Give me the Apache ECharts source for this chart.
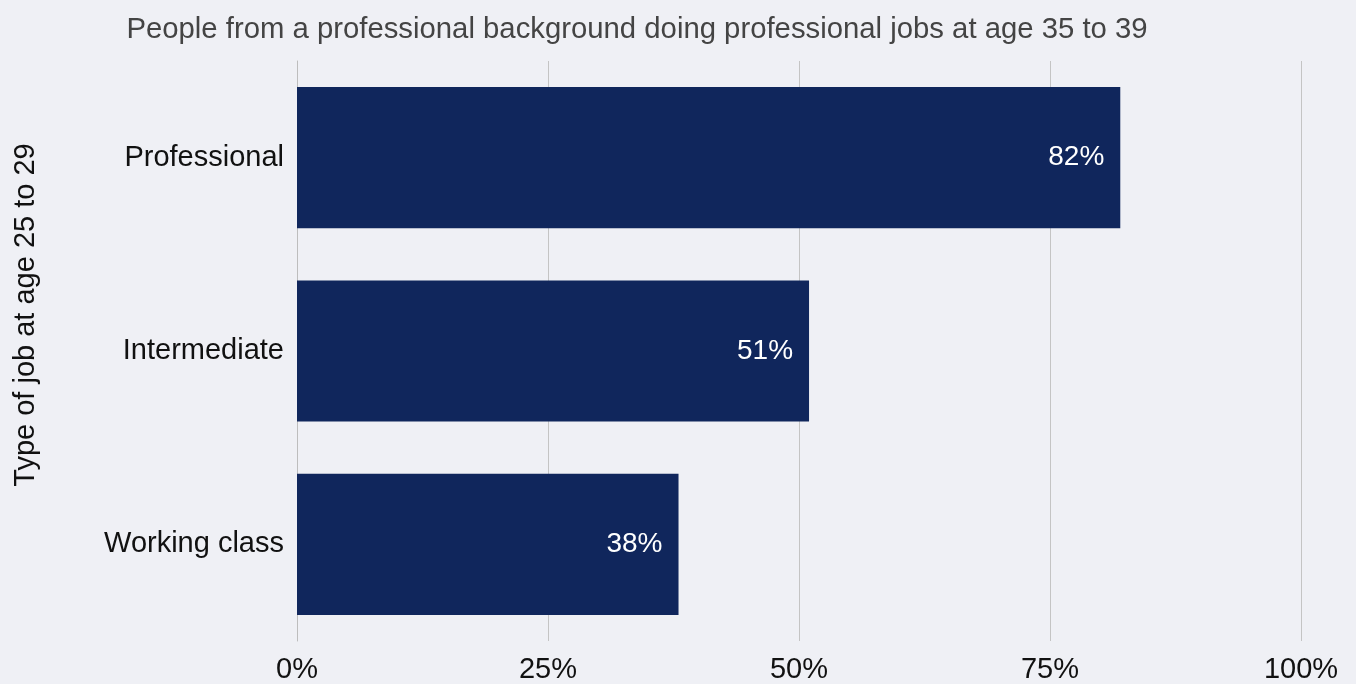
<!DOCTYPE html>
<html>
<head>
<meta charset="utf-8">
<script src="https://cdn.jsdelivr.net/npm/echarts@6/dist/echarts.min.js"></script>
<style>
html,body{margin:0;padding:0;background:#eff0f5;}
#chart{width:1356px;height:684px;}
</style>
</head>
<body>
<div id="chart"></div>
<script>
const categories = ["Professional", "Intermediate", "Working class"];
const values = [82, 51, 38];
const xTicks = [0, 25, 50, 75, 100];
const titleText = "People from a professional background doing professional jobs at age 35 to 39";
const yAxisName = "Type of job at age 25 to 29";

const FONT = 'Liberation Sans';
const chart = echarts.init(document.getElementById('chart'));
chart.setOption({
  backgroundColor: '#eff0f5',
  animation: false,
  title: {
    text: titleText,
    left: 632, top: 10, textAlign: 'center',
    textStyle: {fontFamily: FONT, fontSize: 29.3, fontWeight: 'normal', color: '#444'}
  },
  grid: {left: 297, right: 55, top: 61, bottom: 43, containLabel: false},
  xAxis: {
    type: 'value', min: 0, max: 100, interval: 25,
    axisLine: {show: false}, axisTick: {show: false},
    splitLine: {show: true, lineStyle: {color: '#c4c4c4', width: 1}},
    axisLabel: {
      fontFamily: FONT, fontSize: 29, color: '#111', margin: 14,
      formatter: v => xTicks.includes(v) ? v + '%' : ''
    }
  },
  yAxis: {
    type: 'category', data: categories, inverse: true,
    axisLine: {show: true, lineStyle: {color: '#bdbdbd', width: 1}},
    axisTick: {show: false},
    axisLabel: {fontFamily: FONT, fontSize: 29, color: '#111', margin: 13},
    name: yAxisName, nameLocation: 'middle', nameGap: 257, nameRotate: 90,
    nameTextStyle: {fontFamily: FONT, fontSize: 29, color: '#111', padding: [0, 0, 0, 72]}
  },
  series: [{
    type: 'bar', data: values, barCategoryGap: '27%',
    itemStyle: {color: '#10265c'},
    label: {
      show: true, position: 'insideRight', distance: 16,
      formatter: p => p.value + '%',
      fontFamily: FONT, fontSize: 28, color: '#fff'
    }
  }]
});
</script>
</body>
</html>
